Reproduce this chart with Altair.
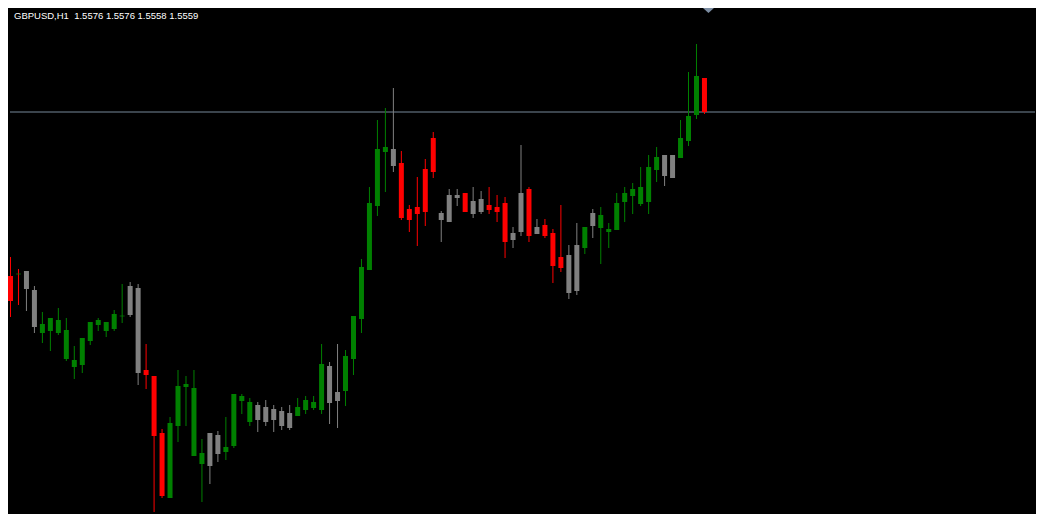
import altair as alt
import pandas as pd

title_text = "GBPUSD,H1\u00a0\u00a01.5576 1.5576 1.5558 1.5559"
bid_price = 1.5559

opens = [1.5477, 1.5478, 1.54795, 1.5470, 1.54485, 1.54495, 1.54485, 1.54355, 1.54315, 1.54325,
         1.54445, 1.54525, 1.54495, 1.54505, 1.5457, 1.5472, 1.5471, 1.5430, 1.5427, 1.53985,
         1.5366, 1.5402, 1.54215, 1.5387, 1.5383, 1.53985, 1.53975, 1.5389, 1.5392, 1.54145,
         1.5404, 1.54125, 1.54115, 1.54105, 1.54095, 1.54085, 1.5407, 1.5410, 1.5411, 1.5410,
         1.5432, 1.5419, 1.54195, 1.54355, 1.54555, 1.5480, 1.5512, 1.5539, 1.55405, 1.55335,
         1.55105, 1.55115, 1.55305, 1.5546, 1.55085, 1.55175, 1.55175, 1.55185, 1.55145, 1.55155,
         1.55125, 1.55115, 1.55135, 1.54985, 1.55185, 1.55205, 1.55015, 1.55025, 1.54985, 1.54865,
         1.54875, 1.54925, 1.5491, 1.55085, 1.5501, 1.5499, 1.5500, 1.5514, 1.5517, 1.5513,
         1.5514, 1.5530, 1.55375, 1.55375, 1.5536, 1.55445, 1.55575, 1.5576]
highs = [1.54865, 1.54805, 1.54795, 1.5472, 1.5459, 1.5456, 1.5461, 1.5456, 1.5442, 1.5446,
         1.5454, 1.5456, 1.5454, 1.5460, 1.5473, 1.5474, 1.5473, 1.5443, 1.5427, 1.54005,
         1.54065, 1.5430, 1.5427, 1.5430, 1.53955, 1.53985, 1.53995, 1.54065, 1.5418, 1.5418,
         1.5416, 1.5414, 1.5415, 1.54125, 1.54115, 1.54125, 1.5416, 1.5417, 1.5417, 1.5443,
         1.5434, 1.5443, 1.5440, 1.5457, 1.54855, 1.55215, 1.5555, 1.5561, 1.5571, 1.55395,
         1.55125, 1.55265, 1.55355, 1.5549, 1.55095, 1.55205, 1.55205, 1.55185, 1.55215, 1.55195,
         1.55215, 1.55175, 1.55165, 1.55015, 1.55425, 1.55215, 1.55055, 1.55055, 1.55005, 1.55125,
         1.54925, 1.55035, 1.55015, 1.55105, 1.55115, 1.55035, 1.55185, 1.55215, 1.55235, 1.55315,
         1.55375, 1.55415, 1.55375, 1.55375, 1.5555, 1.5579, 1.5593, 1.5576]
lows = [1.54565, 1.54625, 1.54595, 1.54485, 1.54435, 1.54395, 1.54475, 1.54345, 1.54255, 1.54285,
        1.54425, 1.54495, 1.54465, 1.54495, 1.54535, 1.54565, 1.54225, 1.54205, 1.5359, 1.5366,
        1.5366, 1.5394, 1.5402, 1.5387, 1.5364, 1.5373, 1.5384, 1.5385, 1.5391, 1.5408,
        1.5402, 1.5399, 1.5402, 1.5399, 1.5400, 1.5400, 1.5407, 1.5408, 1.5410, 1.5408,
        1.5403, 1.5401, 1.5412, 1.54275, 1.54485, 1.5480, 1.5507, 1.5519, 1.5529, 1.5505,
        1.5499, 1.5492, 1.5502, 1.5526, 1.5494, 1.5504, 1.5512, 1.5509, 1.5506, 1.5508,
        1.5508, 1.5504, 1.5486, 1.5491, 1.5497, 1.5494, 1.5498, 1.5496, 1.54735, 1.5479,
        1.54655, 1.54675, 1.5488, 1.5496, 1.5483, 1.5491, 1.5500, 1.5504, 1.5508, 1.5512,
        1.5508, 1.5524, 1.5522, 1.5526, 1.5536, 1.5542, 1.55555, 1.5558]
closes = [1.54645, 1.5478, 1.54705, 1.54515, 1.5453, 1.5456, 1.5455, 1.5450, 1.5435, 1.5446,
          1.5454, 1.5455, 1.5454, 1.5458, 1.5457, 1.54575, 1.54285, 1.54275, 1.5397, 1.5367,
          1.54035, 1.5422, 1.5423, 1.5421, 1.53885, 1.5382, 1.5388, 1.53915, 1.5418, 1.5417,
          1.5414, 1.5405, 1.5404, 1.5405, 1.5402, 1.5401, 1.54115, 1.5415, 1.5414, 1.5433,
          1.54135, 1.54145, 1.5437, 1.5457, 1.54815, 1.55135, 1.55405, 1.55415, 1.5532, 1.5506,
          1.5505, 1.5508, 1.5509, 1.5529, 1.5505, 1.5504, 1.5516, 1.5509, 1.5508, 1.5509,
          1.5510, 1.5509, 1.5494, 1.5495, 1.5499, 1.5497, 1.5498, 1.5497, 1.5482, 1.5481,
          1.54685, 1.54695, 1.55015, 1.5502, 1.55075, 1.55005, 1.55135, 1.55185, 1.55205, 1.55215,
          1.55315, 1.55365, 1.5527, 1.5526, 1.5546, 1.5557, 1.5577, 1.5559]
# body colour class: g = green, r = red, x = grey
body_cls = list("rgxx" + "gggggggggg" + "g" + "xx" + "rrr" + "ggggg" + "xx" + "gggg" + "xxxxx"
                + "gggg" + "xx" + "gggggg" + "x" + "rrrrr" + "xxx" + "r" + "xx" + "rrr" + "xx"
                + "r" + "x" + "rrr" + "xx" + "g" + "x" + "gggggggg" + "xx" + "ggg" + "r")
wick_cls = list(body_cls)
wick_cls[1] = "r"

n = len(opens)
df = pd.DataFrame({
    "bar": list(range(n)),
    "open": opens, "high": highs, "low": lows, "close": closes,
    "body": body_cls, "wick": wick_cls,
})
df["top"] = df[["open", "close"]].max(axis=1)
df["bottom"] = df[["open", "close"]].min(axis=1)

xs = alt.Scale(domain=[-0.0625, 128.4375], nice=False, zero=False, padding=0)
ys = alt.Scale(domain=[1.5358, 1.5611], nice=False, zero=False, padding=0)
cs = alt.Scale(domain=["g", "r", "x"], range=["#008000", "#ff0000", "#808080"])
X = alt.X("bar:Q", scale=xs, axis=None)

base = alt.Chart(df)

bid = alt.Chart(pd.DataFrame({"bid": [bid_price]})).mark_rule(
    color="#778899", strokeWidth=1
).encode(y=alt.Y("bid:Q", scale=ys, axis=None))

wicks = base.mark_rule(strokeWidth=1).encode(
    x=X,
    y=alt.Y("high:Q", scale=ys, axis=None),
    y2="low:Q",
    color=alt.Color("wick:N", scale=cs, legend=None),
)

bodies = base.transform_filter("datum.open != datum.close").mark_bar(size=5).encode(
    x=X,
    y=alt.Y("top:Q", scale=ys, axis=None),
    y2="bottom:Q",
    color=alt.Color("body:N", scale=cs, legend=None),
)

dojis = base.transform_filter("datum.open == datum.close").mark_tick(
    orient="horizontal", size=5, thickness=1
).encode(
    x=X,
    y=alt.Y("open:Q", scale=ys, axis=None),
    color=alt.Color("body:N", scale=cs, legend=None),
)

marker = alt.Chart(pd.DataFrame({"bar": [n - 1]})).mark_point(
    shape="M-1,-0.45L1,-0.45L0,0.45Z", filled=True, size=121,
    color="#7d8ea3", opacity=1, xOffset=4, strokeWidth=0
).encode(x=X, y=alt.value(2.5))

label = alt.Chart(pd.DataFrame({"t": [title_text]})).mark_text(
    align="left", baseline="middle", color="white",
    font="Liberation Sans", fontSize=9.5
).encode(x=alt.value(4), y=alt.value(8), text="t:N")

chart = alt.layer(bid, wicks, bodies, dojis, marker, label).properties(
    width=1028, height=506,
    autosize=alt.AutoSizeParams(type="fit", contains="padding"),
    padding=0,
    background="#000000",
).configure_view(stroke=None)

chart.save("out.html", embed_options={"renderer": "svg", "actions": False})
